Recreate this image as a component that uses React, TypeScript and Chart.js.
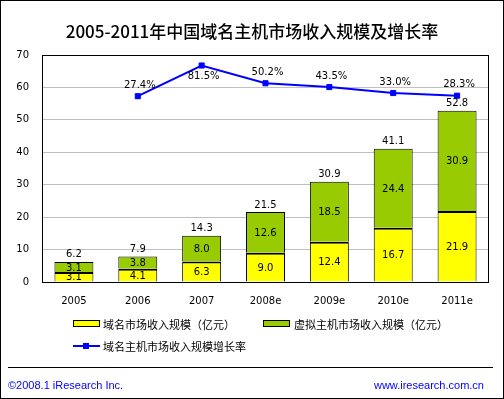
import React, { useEffect, useRef } from "react";
import { Chart, registerables } from "chart.js";

Chart.register(...registerables);

const categories = ["2005", "2006", "2007", "2008e", "2009e", "2010e", "2011e"];
const domainRevenue = [3.1, 4.1, 6.3, 9.0, 12.4, 16.7, 21.9];
const hostingRevenue = [3.1, 3.8, 8.0, 12.6, 18.5, 24.4, 30.9];
const totalRevenue = [6.2, 7.9, 14.3, 21.5, 30.9, 41.1, 52.8];
const growthRate: (number | null)[] = [null, 27.4, 81.5, 50.2, 43.5, 33.0, 28.3];

const TITLE = "2005-2011年中国域名主机市场收入规模及增长率";
const LEGEND_DOMAIN = "域名市场收入规模（亿元）";
const LEGEND_HOSTING = "虚拟主机市场收入规模（亿元）";
const LEGEND_GROWTH = "域名主机市场收入规模增长率";

const YELLOW = "#FFFF00";
const GREEN = "#99CC00";
const BLUE = "#0000FF";
const NUM_FONT = "10px 'DejaVu Sans'";
const CJK = "'Noto Sans CJK SC', sans-serif";

const labelPlugin = {
  id: "labels",
  beforeDatasetsDraw(chart: any) {
    const { ctx, chartArea } = chart;
    ctx.save();
    ctx.strokeStyle = "#000";
    ctx.lineWidth = 1;
    ctx.strokeRect(
      chartArea.left + 0.5,
      chartArea.top + 0.5,
      chartArea.right - chartArea.left - 1,
      chartArea.bottom - chartArea.top
    );
    ctx.restore();
  },
  afterDatasetsDraw(chart: any) {
    const { ctx, chartArea } = chart;
    ctx.save();
    ctx.font = NUM_FONT;
    ctx.fillStyle = "#000";
    ctx.textAlign = "center";
    ctx.textBaseline = "middle";
    [0, 1].forEach((di) => {
      const meta = chart.getDatasetMeta(di);
      const vals = chart.data.datasets[di].data as number[];
      meta.data.forEach((bar: any, j: number) => {
        const p = bar.getProps(["x", "y", "base"], true);
        ctx.fillText(vals[j].toFixed(1), p.x, (p.y + p.base) / 2 + 1);
      });
    });
    const topMeta = chart.getDatasetMeta(1);
    topMeta.data.forEach((bar: any, j: number) => {
      const p = bar.getProps(["x", "y"], true);
      ctx.fillText(totalRevenue[j].toFixed(1), p.x, p.y - 7);
    });
    const lineMeta = chart.getDatasetMeta(2);
    lineMeta.data.forEach((pt: any, j: number) => {
      const v = growthRate[j];
      if (v == null) return;
      const p = pt.getProps(["x", "y"], true);
      let ly = p.y - 11;
      if (ly - 5 < chartArea.top) ly = p.y + 11;
      ctx.fillText(v.toFixed(1) + "%", p.x + 2, ly);
    });
    ctx.restore();
  },
};

function ChartCanvas() {
  const ref = useRef<HTMLCanvasElement | null>(null);
  useEffect(() => {
    if (!ref.current) return;
    const chart = new Chart(ref.current, {
      type: "bar",
      data: {
        labels: categories,
        datasets: [
          {
            type: "bar",
            label: LEGEND_DOMAIN,
            data: domainRevenue,
            backgroundColor: YELLOW,
            borderColor: "#000",
            borderWidth: { top: 2, left: 1, right: 1, bottom: 0 } as any,
            borderSkipped: "start",
            stack: "s",
            order: 1,
            categoryPercentage: 1,
            barPercentage: 0.61,
          },
          {
            type: "bar",
            label: LEGEND_HOSTING,
            data: hostingRevenue,
            backgroundColor: GREEN,
            borderColor: "#000",
            borderWidth: 1,
            borderSkipped: "start",
            stack: "s",
            order: 1,
            categoryPercentage: 1,
            barPercentage: 0.61,
          },
          {
            type: "line",
            label: LEGEND_GROWTH,
            data: growthRate as any,
            yAxisID: "y1",
            borderColor: BLUE,
            backgroundColor: BLUE,
            borderWidth: 2,
            pointStyle: "rect",
            pointRadius: 3.6,
            pointBorderWidth: 1,
            pointBackgroundColor: BLUE,
            pointBorderColor: BLUE,
            tension: 0,
            order: 0,
          } as any,
        ],
      },
      options: {
        animation: false,
        responsive: false,
        devicePixelRatio: 1,
        layout: { padding: { top: 55, right: 15, left: 0, bottom: 0 } },
        plugins: {
          legend: { display: false },
          title: { display: false },
          tooltip: { enabled: false },
        },
        scales: {
          x: {
            stacked: true,
            offset: true,
            grid: { display: false, drawTicks: false },
            border: { display: false },
            ticks: {
              color: "#000",
              font: { family: "DejaVu Sans", size: 10 },
              padding: 13,
              maxRotation: 0,
              autoSkip: false,
            },
            afterFit: (s: any) => {
              s.height = 117;
            },
          },
          y: {
            stacked: true,
            min: 0,
            max: 70,
            grid: { color: "#C0C0C0", lineWidth: 1, drawTicks: false },
            border: { display: false },
            ticks: {
              stepSize: 10,
              color: "#000",
              font: { family: "DejaVu Sans", size: 10 },
              padding: 13,
            },
            afterFit: (s: any) => {
              s.width = 42;
            },
          },
          y1: {
            display: false,
            min: -300,
            max: 100,
            position: "right",
          },
        },
      },
      plugins: [labelPlugin],
    });
    return () => chart.destroy();
  }, []);
  return (
    <canvas
      ref={ref}
      width={504}
      height={399}
      style={{ position: "absolute", left: 0, top: 0, width: 504, height: 399 }}
    />
  );
}

const abs = (s: React.CSSProperties): React.CSSProperties => ({ position: "absolute", ...s });

export default function App() {
  return (
    <div
      style={abs({
        left: 0,
        top: 0,
        width: 504,
        height: 399,
        background: "#fff",
        overflow: "hidden",
      })}
    >
      <ChartCanvas />
      <div
        style={abs({
          left: 0,
          top: 21,
          width: 504,
          textAlign: "center",
          font: `500 17px ${CJK}`,
          lineHeight: "20px",
          color: "#000",
          whiteSpace: "nowrap",
        })}
      >
        {TITLE}
      </div>
      {/* legend row 1 */}
      <div
        style={abs({
          left: 73,
          top: 320,
          width: 27,
          height: 7,
          background: YELLOW,
          border: "1px solid #000",
          boxSizing: "border-box",
        })}
      />
      <div style={abs({ left: 103, top: 316, font: `11px ${CJK}`, lineHeight: "16px", whiteSpace: "nowrap", color: "#000" })}>
        {LEGEND_DOMAIN}
      </div>
      <div
        style={abs({
          left: 263,
          top: 320,
          width: 27,
          height: 7,
          background: GREEN,
          border: "1px solid #000",
          boxSizing: "border-box",
        })}
      />
      <div style={abs({ left: 294, top: 316, font: `11px ${CJK}`, lineHeight: "16px", whiteSpace: "nowrap", color: "#000" })}>
        {LEGEND_HOSTING}
      </div>
      {/* legend row 2 */}
      <div style={abs({ left: 73, top: 345, width: 27, height: 2, background: BLUE })} />
      <div style={abs({ left: 83, top: 343, width: 6, height: 6, background: BLUE })} />
      <div style={abs({ left: 103, top: 338, font: `11px ${CJK}`, lineHeight: "16px", whiteSpace: "nowrap", color: "#000" })}>
        {LEGEND_GROWTH}
      </div>
      {/* separator */}
      <div style={abs({ left: 8, top: 367, width: 485, height: 1, background: "#000" })} />
      {/* footer */}
      <div
        style={abs({
          left: 8,
          top: 377,
          font: "11px 'Liberation Sans'",
          lineHeight: "16px",
          color: BLUE,
          whiteSpace: "nowrap",
        })}
      >
        ©2008.1 iResearch Inc.
      </div>
      <div
        style={abs({
          right: 20,
          top: 377,
          font: "11px 'Liberation Sans'",
          lineHeight: "16px",
          color: BLUE,
          whiteSpace: "nowrap",
        })}
      >
        www.iresearch.com.cn
      </div>
      {/* outer border */}
      <div
        style={abs({
          left: 0,
          top: 0,
          width: 504,
          height: 399,
          border: "1px solid #000",
          boxSizing: "border-box",
          pointerEvents: "none",
        })}
      />
    </div>
  );
}
